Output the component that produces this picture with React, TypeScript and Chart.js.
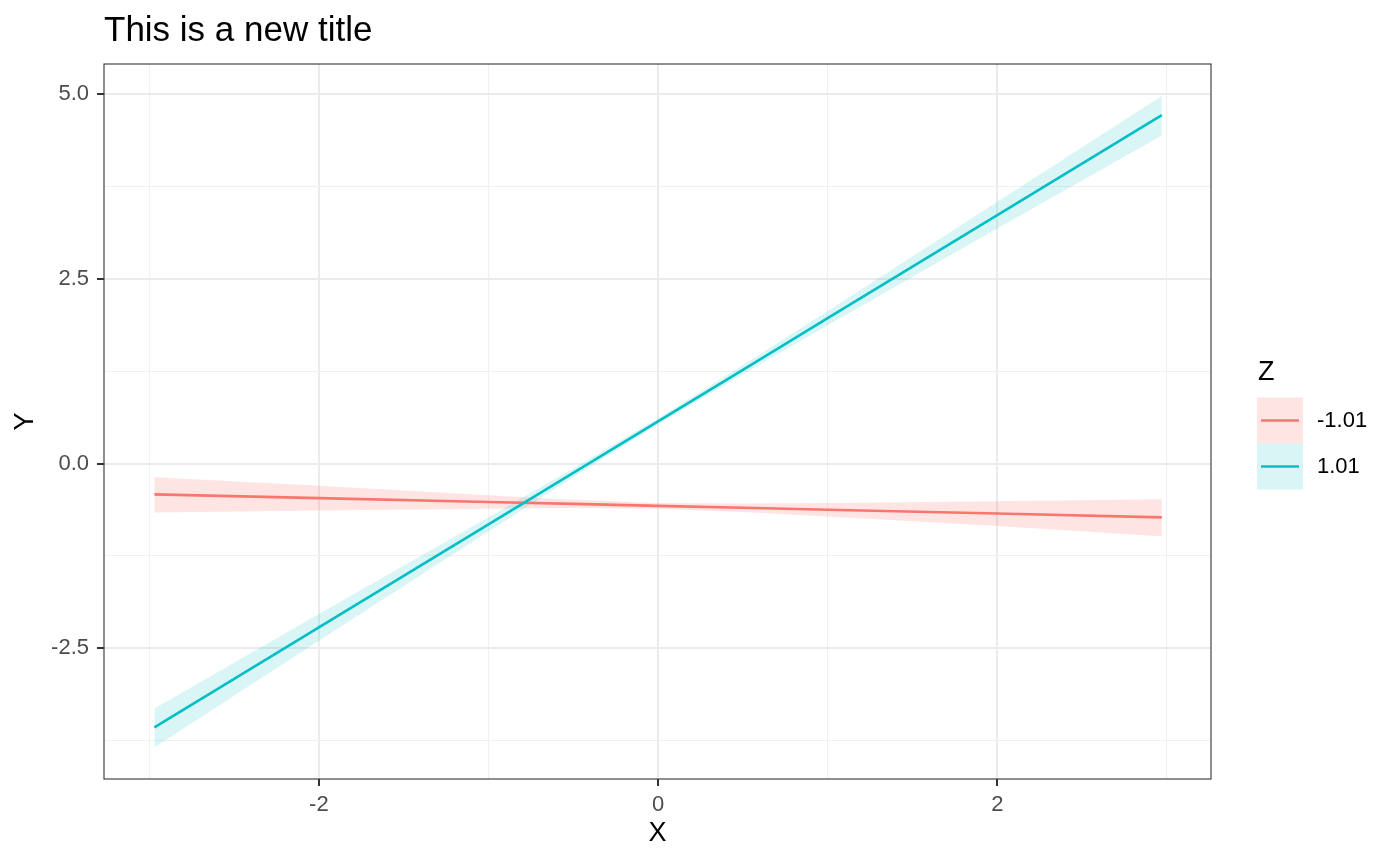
import React, { useEffect, useRef } from "react";
import { Chart, registerables } from "chart.js";

Chart.register(...registerables);

// ---------- data ----------
const xValues = [-2.97, -2, -1, -0.5, 0, 0.5, 1, 2, 2.97];

const groupLabels = ["-1.01", "1.01"];
const legendTitle = "Z";

// Z = -1.01
const negFit = [-0.416, -0.467, -0.519, -0.545, -0.572, -0.598, -0.624, -0.676, -0.727];
const negUpper = [-0.186, -0.299, -0.428, -0.488, -0.532, -0.541, -0.533, -0.508, -0.483];
const negLower = [-0.66, -0.635, -0.61, -0.602, -0.612, -0.655, -0.715, -0.844, -0.984];

// Z = 1.01
const posFit = [-3.57, -2.217, -0.823, -0.125, 0.572, 1.269, 1.967, 3.361, 4.714];
const posUpper = [-3.313, -2.036, -0.726, -0.065, 0.612, 1.329, 2.064, 3.542, 4.972];
const posLower = [-3.841, -2.398, -0.92, -0.185, 0.532, 1.209, 1.87, 3.18, 4.44];

const xTicks = [-3, -2, -1, 0, 1, 2, 3];
const xMajorTicks = [-2, 0, 2];
const xTickLabels = ["-2", "0", "2"];
const yTicks = [-3.75, -2.5, -1.25, 0, 1.25, 2.5, 3.75, 5];
const yMajorTicks = [-2.5, 0, 2.5, 5];
const yTickLabels = ["-2.5", "0.0", "2.5", "5.0"];
const xLimits = [-3.267, 3.26];
const yLimits = [-4.267, 5.406];

const titleText = "This is a new title";
const xTitle = "X";
const yTitle = "Y";

const lineColors = ["#F8766D", "#00BFC4"];
const ribbonColors = ["rgba(248,118,109,0.19)", "rgba(0,191,196,0.15)"];

const FONT = '"Liberation Sans", Arial, Helvetica, sans-serif';

const pts = (ys: number[]) => xValues.map((x, i) => ({ x, y: ys[i] }));
const isMajor = (list: number[], v: number) => list.some((m) => Math.abs(m - v) < 1e-6);

const panelAndLegend = {
  id: "panelAndLegend",
  afterDraw(chart: any) {
    const { ctx, chartArea: a } = chart;
    ctx.save();
    // panel border
    ctx.strokeStyle = "#333333";
    ctx.lineWidth = 1.1;
    ctx.strokeRect(a.left, a.top, a.right - a.left, a.bottom - a.top);

    // legend
    const cy = (a.top + a.bottom) / 2;
    const keyLeft = a.right + 46;
    const keySize = 46;
    const keysTop = cy - keySize / 2 - 1;
    ctx.fillStyle = "#000000";
    ctx.font = `27px ${FONT}`;
    ctx.textAlign = "left";
    ctx.textBaseline = "alphabetic";
    ctx.fillText(legendTitle, keyLeft + 1, keysTop - 18);

    groupLabels.forEach((lab, i) => {
      const top = keysTop + i * keySize;
      ctx.fillStyle = ribbonColors[i];
      ctx.fillRect(keyLeft, top, keySize, keySize);
      ctx.strokeStyle = lineColors[i];
      ctx.lineWidth = 2.6;
      ctx.beginPath();
      ctx.moveTo(keyLeft + 4, top + keySize / 2);
      ctx.lineTo(keyLeft + keySize - 4, top + keySize / 2);
      ctx.stroke();
      ctx.fillStyle = "#000000";
      ctx.font = `22px ${FONT}`;
      ctx.textBaseline = "middle";
      ctx.fillText(lab, keyLeft + 60, top + keySize / 2);
    });
    ctx.restore();
  },
};

export default function App() {
  const ref = useRef<HTMLCanvasElement | null>(null);

  useEffect(() => {
    if (!ref.current) return;
    const lineDs = (ys: number[], i: number) => ({
      label: groupLabels[i],
      data: pts(ys),
      borderColor: lineColors[i],
      borderWidth: 2.6,
      pointRadius: 0,
      fill: false,
      tension: 0,
    });
    const bandDs = (ys: number[], i: number, fill: any) => ({
      label: groupLabels[i] + " band",
      data: pts(ys),
      borderColor: "rgba(0,0,0,0)",
      borderWidth: 0,
      backgroundColor: ribbonColors[i],
      pointRadius: 0,
      fill,
      tension: 0,
    });

    const chart = new Chart(ref.current, {
      type: "line",
      data: {
        datasets: [
          lineDs(posFit, 1),
          lineDs(negFit, 0),
          bandDs(posUpper, 1, false),
          bandDs(posLower, 1, 2),
          bandDs(negUpper, 0, false),
          bandDs(negLower, 0, 4),
        ],
      },
      options: {
        responsive: false,
        animation: false,
        devicePixelRatio: 1,
        layout: { padding: { left: 0, right: 189, top: 0, bottom: 0 } },
        plugins: {
          legend: { display: false },
          tooltip: { enabled: false },
          title: {
            display: true,
            text: titleText,
            align: "start",
            fullSize: false,
            color: "#000000",
            font: { family: FONT, size: 35, weight: "normal" },
            padding: { top: 10, bottom: 12 },
          },
        },
        scales: {
          x: {
            type: "linear",
            min: xLimits[0],
            max: xLimits[1],
            afterBuildTicks: (s: any) => {
              s.ticks = xTicks.map((v) => ({ value: v }));
            },
            afterFit: (s: any) => {
              s.height = 86;
            },
            border: { display: false },
            grid: {
              color: (c: any) => (isMajor(xMajorTicks, c.tick?.value) ? "#EBEBEB" : "#F0F0F0"),
              lineWidth: (c: any) => (isMajor(xMajorTicks, c.tick?.value) ? 2 : 1.1),
              tickColor: (c: any) => (isMajor(xMajorTicks, c.tick?.value) ? "#333333" : "rgba(0,0,0,0)"),
              tickWidth: 2,
              tickLength: 7,
              drawTicks: true,
            },
            ticks: {
              autoSkip: false,
              maxRotation: 0,
              padding: 6,
              color: "#4D4D4D",
              font: { family: FONT, size: 22 },
              callback: (v: any) => {
                const idx = xMajorTicks.findIndex((m) => Math.abs(m - Number(v)) < 1e-6);
                return idx >= 0 ? xTickLabels[idx] : "";
              },
            },
            title: {
              display: true,
              text: xTitle,
              color: "#000000",
              font: { family: FONT, size: 27 },
              padding: { top: 0, bottom: 15 },
            },
          },
          y: {
            type: "linear",
            min: yLimits[0],
            max: yLimits[1],
            afterBuildTicks: (s: any) => {
              s.ticks = yTicks.map((v) => ({ value: v }));
            },
            afterFit: (s: any) => {
              s.width = 104;
            },
            border: { display: false },
            grid: {
              color: (c: any) => (isMajor(yMajorTicks, c.tick?.value) ? "#EBEBEB" : "#F0F0F0"),
              lineWidth: (c: any) => (isMajor(yMajorTicks, c.tick?.value) ? 2 : 1.1),
              tickColor: (c: any) => (isMajor(yMajorTicks, c.tick?.value) ? "#333333" : "rgba(0,0,0,0)"),
              tickWidth: 2,
              tickLength: 7,
              drawTicks: true,
            },
            ticks: {
              autoSkip: false,
              padding: 8,
              color: "#4D4D4D",
              font: { family: FONT, size: 22 },
              callback: (v: any) => {
                const idx = yMajorTicks.findIndex((m) => Math.abs(m - Number(v)) < 1e-6);
                return idx >= 0 ? yTickLabels[idx] : "";
              },
            },
            title: {
              display: true,
              text: yTitle,
              color: "#000000",
              font: { family: FONT, size: 27 },
              padding: { top: 9, bottom: 0 },
            },
          },
        },
      },
      plugins: [panelAndLegend],
    } as any);

    return () => chart.destroy();
  }, []);

  return (
    <div style={{ position: "fixed", left: 0, top: 0, width: 1400, height: 865, background: "#ffffff" }}>
      <canvas ref={ref} width={1400} height={865} style={{ display: "block" }} />
    </div>
  );
}
